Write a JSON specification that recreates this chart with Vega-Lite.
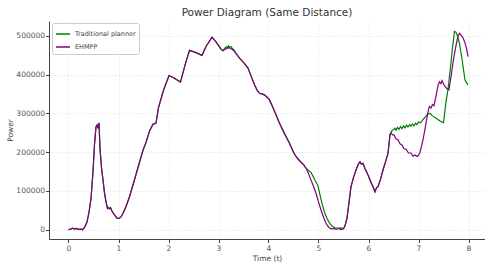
{
  "$schema": "https://vega.github.io/schema/vega-lite/v6.json",
  "width": 436,
  "height": 218,
  "autosize": {"type": "none"},
  "padding": {"left": 49, "top": 21, "right": 0, "bottom": 26},
  "background": "white",
  "title": {"text": "Power Diagram (Same Distance)", "fontSize": 10.5, "font": "DejaVu Sans", "fontWeight": "normal", "color": "#333333", "anchor": "middle", "offset": 3},
  "config": {
    "font": "DejaVu Sans",
    "view": {"stroke": null},
    "axis": {"labelFont": "DejaVu Sans", "labelFontSize": 7.5, "labelColor": "#555555", "titleFont": "DejaVu Sans", "titleFontSize": 7.5, "titleFontWeight": "normal", "titleColor": "#444444", "domainColor": "#444444", "tickColor": "#444444", "tickSize": 3.5, "gridColor": "#d9d9d9", "gridDash": [1, 2], "gridWidth": 0.8, "domainWidth": 1}
  },
  "data": {"values": [
    {"t":0,"P":0,"s":"Traditional planner"},{"t":0.05,"P":2000,"s":"Traditional planner"},{"t":0.08,"P":4000,"s":"Traditional planner"},{"t":0.12,"P":1500,"s":"Traditional planner"},{"t":0.15,"P":3500,"s":"Traditional planner"},{"t":0.2,"P":1000,"s":"Traditional planner"},{"t":0.25,"P":1500,"s":"Traditional planner"},{"t":0.28,"P":0,"s":"Traditional planner"},{"t":0.32,"P":6000,"s":"Traditional planner"},{"t":0.37,"P":20000,"s":"Traditional planner"},{"t":0.41,"P":45000,"s":"Traditional planner"},{"t":0.45,"P":80000,"s":"Traditional planner"},{"t":0.49,"P":150000,"s":"Traditional planner"},{"t":0.52,"P":220000,"s":"Traditional planner"},{"t":0.55,"P":265000,"s":"Traditional planner"},{"t":0.57,"P":270000,"s":"Traditional planner"},{"t":0.59,"P":262000,"s":"Traditional planner"},{"t":0.61,"P":276000,"s":"Traditional planner"},{"t":0.63,"P":210000,"s":"Traditional planner"},{"t":0.66,"P":160000,"s":"Traditional planner"},{"t":0.69,"P":128000,"s":"Traditional planner"},{"t":0.72,"P":95000,"s":"Traditional planner"},{"t":0.75,"P":72000,"s":"Traditional planner"},{"t":0.78,"P":55000,"s":"Traditional planner"},{"t":0.8,"P":57000,"s":"Traditional planner"},{"t":0.82,"P":54000,"s":"Traditional planner"},{"t":0.84,"P":57000,"s":"Traditional planner"},{"t":0.87,"P":48000,"s":"Traditional planner"},{"t":0.92,"P":38000,"s":"Traditional planner"},{"t":0.97,"P":30000,"s":"Traditional planner"},{"t":1.01,"P":29000,"s":"Traditional planner"},{"t":1.05,"P":33000,"s":"Traditional planner"},{"t":1.1,"P":45000,"s":"Traditional planner"},{"t":1.15,"P":60000,"s":"Traditional planner"},{"t":1.22,"P":85000,"s":"Traditional planner"},{"t":1.3,"P":120000,"s":"Traditional planner"},{"t":1.4,"P":165000,"s":"Traditional planner"},{"t":1.49,"P":205000,"s":"Traditional planner"},{"t":1.55,"P":225000,"s":"Traditional planner"},{"t":1.62,"P":255000,"s":"Traditional planner"},{"t":1.69,"P":272000,"s":"Traditional planner"},{"t":1.75,"P":275000,"s":"Traditional planner"},{"t":1.8,"P":315000,"s":"Traditional planner"},{"t":1.9,"P":360000,"s":"Traditional planner"},{"t":2.01,"P":398000,"s":"Traditional planner"},{"t":2.1,"P":392000,"s":"Traditional planner"},{"t":2.24,"P":381000,"s":"Traditional planner"},{"t":2.33,"P":425000,"s":"Traditional planner"},{"t":2.42,"P":463000,"s":"Traditional planner"},{"t":2.55,"P":457000,"s":"Traditional planner"},{"t":2.67,"P":450000,"s":"Traditional planner"},{"t":2.75,"P":473000,"s":"Traditional planner"},{"t":2.87,"P":497000,"s":"Traditional planner"},{"t":2.95,"P":485000,"s":"Traditional planner"},{"t":3.05,"P":466000,"s":"Traditional planner"},{"t":3.09,"P":462000,"s":"Traditional planner"},
    {"t":3.13,"P":469000,"s":"Traditional planner"},{"t":3.16,"P":472000,"s":"Traditional planner"},{"t":3.18,"P":470000,"s":"Traditional planner"},{"t":3.2,"P":475000,"s":"Traditional planner"},{"t":3.22,"P":471000,"s":"Traditional planner"},{"t":3.25,"P":473000,"s":"Traditional planner"},{"t":3.28,"P":467000,"s":"Traditional planner"},{"t":3.31,"P":464000,"s":"Traditional planner"},
    {"t":3.35,"P":455000,"s":"Traditional planner"},{"t":3.42,"P":443000,"s":"Traditional planner"},{"t":3.5,"P":432000,"s":"Traditional planner"},{"t":3.59,"P":417000,"s":"Traditional planner"},{"t":3.65,"P":397000,"s":"Traditional planner"},{"t":3.72,"P":374000,"s":"Traditional planner"},{"t":3.78,"P":358000,"s":"Traditional planner"},{"t":3.82,"P":352000,"s":"Traditional planner"},{"t":3.88,"P":350000,"s":"Traditional planner"},{"t":3.92,"P":348000,"s":"Traditional planner"},{"t":3.97,"P":342000,"s":"Traditional planner"},{"t":4.02,"P":335000,"s":"Traditional planner"},{"t":4.1,"P":312000,"s":"Traditional planner"},{"t":4.22,"P":275000,"s":"Traditional planner"},{"t":4.32,"P":248000,"s":"Traditional planner"},{"t":4.42,"P":223000,"s":"Traditional planner"},{"t":4.5,"P":200000,"s":"Traditional planner"},{"t":4.55,"P":189000,"s":"Traditional planner"},{"t":4.62,"P":178000,"s":"Traditional planner"},{"t":4.7,"P":168000,"s":"Traditional planner"},{"t":4.75,"P":159000,"s":"Traditional planner"},
    {"t":4.8,"P":153000,"s":"Traditional planner"},{"t":4.85,"P":148000,"s":"Traditional planner"},{"t":4.92,"P":130000,"s":"Traditional planner"},{"t":4.99,"P":113000,"s":"Traditional planner"},{"t":5.03,"P":90000,"s":"Traditional planner"},{"t":5.07,"P":68000,"s":"Traditional planner"},{"t":5.12,"P":45000,"s":"Traditional planner"},{"t":5.17,"P":29000,"s":"Traditional planner"},{"t":5.22,"P":17000,"s":"Traditional planner"},{"t":5.27,"P":9500,"s":"Traditional planner"},{"t":5.33,"P":5000,"s":"Traditional planner"},{"t":5.4,"P":4000,"s":"Traditional planner"},{"t":5.45,"P":4500,"s":"Traditional planner"},{"t":5.5,"P":3000,"s":"Traditional planner"},{"t":5.53,"P":10000,"s":"Traditional planner"},
    {"t":5.57,"P":30000,"s":"Traditional planner"},{"t":5.61,"P":70000,"s":"Traditional planner"},{"t":5.65,"P":111000,"s":"Traditional planner"},{"t":5.7,"P":135000,"s":"Traditional planner"},{"t":5.75,"P":154000,"s":"Traditional planner"},{"t":5.8,"P":170000,"s":"Traditional planner"},{"t":5.83,"P":175000,"s":"Traditional planner"},{"t":5.86,"P":169000,"s":"Traditional planner"},{"t":5.89,"P":171000,"s":"Traditional planner"},{"t":5.93,"P":158000,"s":"Traditional planner"},{"t":5.99,"P":141000,"s":"Traditional planner"},{"t":6.04,"P":125000,"s":"Traditional planner"},{"t":6.09,"P":111000,"s":"Traditional planner"},{"t":6.13,"P":98000,"s":"Traditional planner"},{"t":6.16,"P":108000,"s":"Traditional planner"},{"t":6.19,"P":111000,"s":"Traditional planner"},{"t":6.24,"P":130000,"s":"Traditional planner"},{"t":6.29,"P":154000,"s":"Traditional planner"},{"t":6.34,"P":175000,"s":"Traditional planner"},{"t":6.39,"P":197000,"s":"Traditional planner"},{"t":6.43,"P":245000,"s":"Traditional planner"},
    {"t":6.47,"P":256000,"s":"Traditional planner"},{"t":6.5,"P":258000,"s":"Traditional planner"},{"t":6.53,"P":262000,"s":"Traditional planner"},{"t":6.55,"P":257000,"s":"Traditional planner"},{"t":6.58,"P":264000,"s":"Traditional planner"},{"t":6.61,"P":259000,"s":"Traditional planner"},{"t":6.64,"P":266000,"s":"Traditional planner"},{"t":6.67,"P":261000,"s":"Traditional planner"},{"t":6.7,"P":268000,"s":"Traditional planner"},{"t":6.73,"P":263000,"s":"Traditional planner"},{"t":6.76,"P":270000,"s":"Traditional planner"},{"t":6.79,"P":265000,"s":"Traditional planner"},{"t":6.82,"P":271000,"s":"Traditional planner"},{"t":6.85,"P":267000,"s":"Traditional planner"},{"t":6.88,"P":273000,"s":"Traditional planner"},{"t":6.91,"P":268000,"s":"Traditional planner"},{"t":6.94,"P":275000,"s":"Traditional planner"},{"t":6.97,"P":271000,"s":"Traditional planner"},{"t":7.0,"P":278000,"s":"Traditional planner"},{"t":7.04,"P":276000,"s":"Traditional planner"},{"t":7.09,"P":284000,"s":"Traditional planner"},{"t":7.14,"P":292000,"s":"Traditional planner"},{"t":7.19,"P":299000,"s":"Traditional planner"},{"t":7.23,"P":300000,"s":"Traditional planner"},{"t":7.27,"P":295000,"s":"Traditional planner"},{"t":7.32,"P":290000,"s":"Traditional planner"},{"t":7.38,"P":285000,"s":"Traditional planner"},{"t":7.44,"P":280000,"s":"Traditional planner"},{"t":7.5,"P":276000,"s":"Traditional planner"},{"t":7.55,"P":330000,"s":"Traditional planner"},{"t":7.59,"P":362000,"s":"Traditional planner"},{"t":7.64,"P":420000,"s":"Traditional planner"},{"t":7.68,"P":470000,"s":"Traditional planner"},{"t":7.72,"P":512000,"s":"Traditional planner"},{"t":7.75,"P":510000,"s":"Traditional planner"},{"t":7.78,"P":500000,"s":"Traditional planner"},{"t":7.82,"P":480000,"s":"Traditional planner"},{"t":7.87,"P":440000,"s":"Traditional planner"},{"t":7.93,"P":386000,"s":"Traditional planner"},{"t":7.99,"P":374000,"s":"Traditional planner"},

    {"t":0,"P":0,"s":"EHMPP"},{"t":0.05,"P":2000,"s":"EHMPP"},{"t":0.08,"P":4000,"s":"EHMPP"},{"t":0.12,"P":1500,"s":"EHMPP"},{"t":0.15,"P":3500,"s":"EHMPP"},{"t":0.2,"P":1000,"s":"EHMPP"},{"t":0.25,"P":1500,"s":"EHMPP"},{"t":0.28,"P":0,"s":"EHMPP"},{"t":0.32,"P":6000,"s":"EHMPP"},{"t":0.37,"P":20000,"s":"EHMPP"},{"t":0.41,"P":45000,"s":"EHMPP"},{"t":0.45,"P":80000,"s":"EHMPP"},{"t":0.49,"P":150000,"s":"EHMPP"},{"t":0.52,"P":220000,"s":"EHMPP"},{"t":0.55,"P":265000,"s":"EHMPP"},{"t":0.57,"P":270000,"s":"EHMPP"},{"t":0.59,"P":262000,"s":"EHMPP"},{"t":0.61,"P":276000,"s":"EHMPP"},{"t":0.63,"P":210000,"s":"EHMPP"},{"t":0.66,"P":160000,"s":"EHMPP"},{"t":0.69,"P":128000,"s":"EHMPP"},{"t":0.72,"P":95000,"s":"EHMPP"},{"t":0.75,"P":72000,"s":"EHMPP"},{"t":0.78,"P":55000,"s":"EHMPP"},{"t":0.8,"P":57000,"s":"EHMPP"},{"t":0.82,"P":54000,"s":"EHMPP"},{"t":0.84,"P":57000,"s":"EHMPP"},{"t":0.87,"P":48000,"s":"EHMPP"},{"t":0.92,"P":38000,"s":"EHMPP"},{"t":0.97,"P":30000,"s":"EHMPP"},{"t":1.01,"P":29000,"s":"EHMPP"},{"t":1.05,"P":33000,"s":"EHMPP"},{"t":1.1,"P":45000,"s":"EHMPP"},{"t":1.15,"P":60000,"s":"EHMPP"},{"t":1.22,"P":85000,"s":"EHMPP"},{"t":1.3,"P":120000,"s":"EHMPP"},{"t":1.4,"P":165000,"s":"EHMPP"},{"t":1.49,"P":205000,"s":"EHMPP"},{"t":1.55,"P":225000,"s":"EHMPP"},{"t":1.62,"P":255000,"s":"EHMPP"},{"t":1.69,"P":272000,"s":"EHMPP"},{"t":1.75,"P":275000,"s":"EHMPP"},{"t":1.8,"P":315000,"s":"EHMPP"},{"t":1.9,"P":360000,"s":"EHMPP"},{"t":2.01,"P":398000,"s":"EHMPP"},{"t":2.1,"P":392000,"s":"EHMPP"},{"t":2.24,"P":381000,"s":"EHMPP"},{"t":2.33,"P":425000,"s":"EHMPP"},{"t":2.42,"P":463000,"s":"EHMPP"},{"t":2.55,"P":457000,"s":"EHMPP"},{"t":2.67,"P":450000,"s":"EHMPP"},{"t":2.75,"P":473000,"s":"EHMPP"},{"t":2.87,"P":497000,"s":"EHMPP"},{"t":2.95,"P":485000,"s":"EHMPP"},{"t":3.05,"P":466000,"s":"EHMPP"},{"t":3.09,"P":462000,"s":"EHMPP"},
    {"t":3.13,"P":466000,"s":"EHMPP"},{"t":3.17,"P":468000,"s":"EHMPP"},{"t":3.2,"P":470000,"s":"EHMPP"},{"t":3.24,"P":468000,"s":"EHMPP"},{"t":3.28,"P":465000,"s":"EHMPP"},{"t":3.31,"P":461000,"s":"EHMPP"},
    {"t":3.35,"P":455000,"s":"EHMPP"},{"t":3.42,"P":443000,"s":"EHMPP"},{"t":3.5,"P":432000,"s":"EHMPP"},{"t":3.59,"P":417000,"s":"EHMPP"},{"t":3.65,"P":397000,"s":"EHMPP"},{"t":3.72,"P":374000,"s":"EHMPP"},{"t":3.78,"P":358000,"s":"EHMPP"},{"t":3.82,"P":352000,"s":"EHMPP"},{"t":3.88,"P":350000,"s":"EHMPP"},{"t":3.92,"P":348000,"s":"EHMPP"},{"t":3.97,"P":342000,"s":"EHMPP"},{"t":4.02,"P":335000,"s":"EHMPP"},{"t":4.1,"P":312000,"s":"EHMPP"},{"t":4.22,"P":275000,"s":"EHMPP"},{"t":4.32,"P":248000,"s":"EHMPP"},{"t":4.42,"P":223000,"s":"EHMPP"},{"t":4.5,"P":200000,"s":"EHMPP"},{"t":4.55,"P":189000,"s":"EHMPP"},{"t":4.62,"P":178000,"s":"EHMPP"},{"t":4.7,"P":168000,"s":"EHMPP"},{"t":4.75,"P":159000,"s":"EHMPP"},
    {"t":4.8,"P":145000,"s":"EHMPP"},{"t":4.85,"P":128000,"s":"EHMPP"},{"t":4.9,"P":112000,"s":"EHMPP"},{"t":4.95,"P":94000,"s":"EHMPP"},{"t":5.0,"P":72000,"s":"EHMPP"},{"t":5.05,"P":51000,"s":"EHMPP"},{"t":5.1,"P":32000,"s":"EHMPP"},{"t":5.15,"P":16500,"s":"EHMPP"},{"t":5.2,"P":7000,"s":"EHMPP"},{"t":5.25,"P":2000,"s":"EHMPP"},{"t":5.3,"P":3500,"s":"EHMPP"},{"t":5.35,"P":1000,"s":"EHMPP"},{"t":5.4,"P":3000,"s":"EHMPP"},{"t":5.45,"P":500,"s":"EHMPP"},{"t":5.5,"P":2500,"s":"EHMPP"},{"t":5.53,"P":10000,"s":"EHMPP"},
    {"t":5.57,"P":30000,"s":"EHMPP"},{"t":5.61,"P":70000,"s":"EHMPP"},{"t":5.65,"P":111000,"s":"EHMPP"},{"t":5.7,"P":135000,"s":"EHMPP"},{"t":5.75,"P":154000,"s":"EHMPP"},{"t":5.8,"P":170000,"s":"EHMPP"},{"t":5.83,"P":175000,"s":"EHMPP"},{"t":5.86,"P":169000,"s":"EHMPP"},{"t":5.89,"P":171000,"s":"EHMPP"},{"t":5.93,"P":158000,"s":"EHMPP"},{"t":5.99,"P":141000,"s":"EHMPP"},{"t":6.04,"P":125000,"s":"EHMPP"},{"t":6.09,"P":111000,"s":"EHMPP"},{"t":6.13,"P":98000,"s":"EHMPP"},{"t":6.16,"P":108000,"s":"EHMPP"},{"t":6.19,"P":111000,"s":"EHMPP"},{"t":6.24,"P":130000,"s":"EHMPP"},{"t":6.29,"P":154000,"s":"EHMPP"},{"t":6.34,"P":175000,"s":"EHMPP"},{"t":6.39,"P":197000,"s":"EHMPP"},{"t":6.43,"P":245000,"s":"EHMPP"},
    {"t":6.45,"P":250000,"s":"EHMPP"},{"t":6.48,"P":245000,"s":"EHMPP"},{"t":6.51,"P":245000,"s":"EHMPP"},{"t":6.55,"P":234000,"s":"EHMPP"},{"t":6.59,"P":232000,"s":"EHMPP"},{"t":6.63,"P":222000,"s":"EHMPP"},{"t":6.67,"P":219000,"s":"EHMPP"},{"t":6.71,"P":209000,"s":"EHMPP"},{"t":6.75,"P":208000,"s":"EHMPP"},{"t":6.8,"P":198000,"s":"EHMPP"},{"t":6.85,"P":198000,"s":"EHMPP"},{"t":6.89,"P":190000,"s":"EHMPP"},{"t":6.93,"P":193000,"s":"EHMPP"},{"t":6.97,"P":189000,"s":"EHMPP"},{"t":7.0,"P":192000,"s":"EHMPP"},{"t":7.03,"P":200000,"s":"EHMPP"},{"t":7.06,"P":215000,"s":"EHMPP"},{"t":7.09,"P":232000,"s":"EHMPP"},{"t":7.13,"P":260000,"s":"EHMPP"},{"t":7.17,"P":290000,"s":"EHMPP"},{"t":7.2,"P":310000,"s":"EHMPP"},{"t":7.22,"P":318000,"s":"EHMPP"},{"t":7.25,"P":314000,"s":"EHMPP"},{"t":7.28,"P":323000,"s":"EHMPP"},{"t":7.31,"P":320000,"s":"EHMPP"},{"t":7.35,"P":345000,"s":"EHMPP"},{"t":7.39,"P":372000,"s":"EHMPP"},{"t":7.42,"P":382000,"s":"EHMPP"},{"t":7.45,"P":377000,"s":"EHMPP"},{"t":7.47,"P":385000,"s":"EHMPP"},{"t":7.52,"P":372000,"s":"EHMPP"},{"t":7.56,"P":365000,"s":"EHMPP"},{"t":7.61,"P":361000,"s":"EHMPP"},{"t":7.65,"P":395000,"s":"EHMPP"},{"t":7.7,"P":440000,"s":"EHMPP"},{"t":7.75,"P":475000,"s":"EHMPP"},{"t":7.79,"P":500000,"s":"EHMPP"},{"t":7.82,"P":507000,"s":"EHMPP"},{"t":7.85,"P":502000,"s":"EHMPP"},{"t":7.88,"P":498000,"s":"EHMPP"},{"t":7.92,"P":486000,"s":"EHMPP"},{"t":7.96,"P":468000,"s":"EHMPP"},{"t":7.99,"P":447000,"s":"EHMPP"}
  ]},
  "mark": {"type": "line", "strokeWidth": 1.2, "interpolate": "linear"},
  "encoding": {
    "x": {"field": "t", "type": "quantitative", "scale": {"domain": [-0.39, 8.33], "nice": false, "zero": false}, "axis": {"title": "Time (t)", "values": [0,1,2,3,4,5,6,7,8], "labelPadding": 2, "titlePadding": 2}},
    "y": {"field": "P", "type": "quantitative", "scale": {"domain": [-24000, 538700], "nice": false, "zero": false}, "axis": {"title": "Power", "values": [0,100000,200000,300000,400000,500000], "format": "d", "labelPadding": 1, "titlePadding": 1}},
    "color": {"field": "s", "type": "nominal", "sort": ["Traditional planner", "EHMPP"], "scale": {"domain": ["Traditional planner", "EHMPP"], "range": ["#008000", "#800080"]},
      "legend": {"title": null, "orient": "none", "legendX": 3, "legendY": 2, "fillColor": "white", "strokeColor": "#cccccc", "padding": 3, "cornerRadius": 2, "symbolType": "stroke", "symbolSize": 196, "symbolStrokeWidth": 1.5, "labelFontSize": 6.5, "labelColor": "#444444", "labelFont": "DejaVu Sans", "rowPadding": 1, "labelOffset": 4}},
    "order": {"field": "t", "type": "quantitative"}
  }
}
